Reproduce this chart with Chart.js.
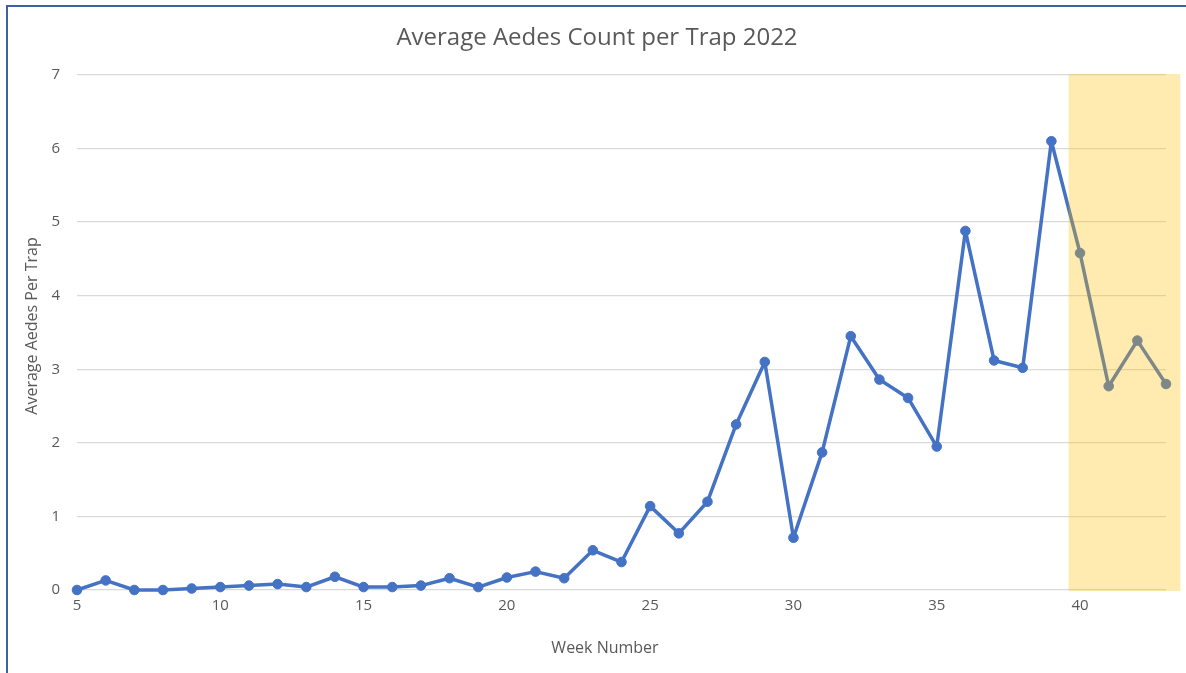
<!DOCTYPE html>
<html>
<head>
<meta charset="utf-8">
<script src="https://cdn.jsdelivr.net/npm/chart.js@4/dist/chart.umd.min.js"></script>
<style>
  html, body { margin: 0; padding: 0; background: #ffffff; }
  #wrap { position: relative; width: 1186px; height: 673px; overflow: hidden; }
  #frame { position: absolute; left: 6px; top: 5px; right: -4px; bottom: -4px;
           border-left: 2px solid #3e62a0; border-top: 2px solid #3e62a0; }
  canvas { position: absolute; left: 0; top: 0; }
</style>
</head>
<body>
<div id="wrap">
  <div id="frame"></div>
  <canvas id="chart" width="1186" height="673"></canvas>
</div>
<script>
// Weekly trap surveillance, 2022
const weeks = [5, 6, 7, 8, 9, 10, 11, 12, 13, 14, 15, 16, 17, 18, 19, 20, 21, 22, 23, 24,
               25, 26, 27, 28, 29, 30, 31, 32, 33, 34, 35, 36, 37, 38, 39, 40, 41, 42, 43];
const avgPerTrap = [0, 0.13, 0, 0, 0.02, 0.04, 0.06, 0.08, 0.04, 0.18, 0.04, 0.04, 0.06, 0.16, 0.04,
                    0.17, 0.25, 0.16, 0.54, 0.38, 1.14, 0.77, 1.2, 2.25, 3.1, 0.71, 1.87, 3.45, 2.86,
                    2.61, 1.95, 4.88, 3.12, 3.02, 6.1, 4.58, 2.77, 3.39, 2.8];
const xTickValues = [5, 10, 15, 20, 25, 30, 35, 40];
const yTickValues = [0, 1, 2, 3, 4, 5, 6, 7];
// Shaded span of weeks (start, end)
const highlightWeeks = [39.6, 43.5];

const chartTitle = 'Average Aedes Count per Trap 2022';
const xAxisTitle = 'Week Number';
const yAxisTitle = 'Average Aedes Per Trap';

const textColor = '#595959';
const fontFamily = "'Open Sans', 'Noto Sans', sans-serif";

// Translucent band laid over the recent weeks
const highlightBand = {
  id: 'highlightBand',
  afterDatasetsDraw(chart) {
    const { ctx, scales: { x, y } } = chart;
    const x0 = x.getPixelForValue(highlightWeeks[0]);
    const x1 = x.getPixelForValue(highlightWeeks[1]);
    const top = y.getPixelForValue(y.max) - 1;
    const bottom = y.getPixelForValue(y.min) + 1;
    ctx.save();
    ctx.fillStyle = 'rgba(255, 192, 0, 0.31)';
    ctx.fillRect(x0, top, x1 - x0, bottom - top);
    ctx.restore();
  }
};

// Axis titles
const axisTitles = {
  id: 'axisTitles',
  afterDraw(chart) {
    const { ctx } = chart;
    ctx.save();
    ctx.fillStyle = textColor;
    ctx.font = `16px ${fontFamily}`;
    ctx.textAlign = 'center';
    ctx.textBaseline = 'middle';
    ctx.fillText(xAxisTitle, 605, 648);
    ctx.translate(32, 326);
    ctx.rotate(-Math.PI / 2);
    ctx.fillText(yAxisTitle, 0, 0);
    ctx.restore();
  }
};

new Chart(document.getElementById('chart'), {
  type: 'line',
  data: {
    datasets: [{
      data: weeks.map((w, i) => ({ x: w, y: avgPerTrap[i] })),
      borderColor: '#4472C4',
      backgroundColor: '#4472C4',
      borderWidth: 3.5,
      borderJoinStyle: 'round',
      borderCapStyle: 'round',
      pointRadius: 4.8,
      pointBorderWidth: 1,
      pointBackgroundColor: '#4472C4',
      pointBorderColor: '#4472C4',
      tension: 0,
      clip: false
    }]
  },
  options: {
    responsive: false,
    animation: false,
    events: [],
    layout: { padding: { left: 28, right: 20, top: 0, bottom: 0 } },
    plugins: {
      legend: { display: false },
      tooltip: { enabled: false },
      title: {
        display: true,
        text: chartTitle,
        color: textColor,
        font: { family: fontFamily, size: 24, weight: 'normal', lineHeight: 1.2 },
        padding: { top: 24, bottom: 22.2 }
      }
    },
    scales: {
      x: {
        type: 'linear',
        min: 5,
        max: 43,
        afterFit(scale) { scale.height = 83; },
        afterBuildTicks(scale) { scale.ticks = xTickValues.map(v => ({ value: v })); },
        grid: { display: false, drawTicks: false },
        border: { display: false },
        ticks: {
          color: textColor,
          padding: 7,
          maxRotation: 0,
          font: { family: fontFamily, size: 15 }
        }
      },
      y: {
        min: 0,
        max: 7,
        afterFit(scale) { scale.width = 49; },
        afterBuildTicks(scale) { scale.ticks = yTickValues.map(v => ({ value: v })); },
        grid: { color: '#d9d9d9', lineWidth: 1.3, drawTicks: false },
        border: { display: false },
        ticks: {
          color: textColor,
          padding: 17,
          font: { family: fontFamily, size: 15 }
        }
      }
    }
  },
  plugins: [highlightBand, axisTitles]
});
</script>
</body>
</html>
